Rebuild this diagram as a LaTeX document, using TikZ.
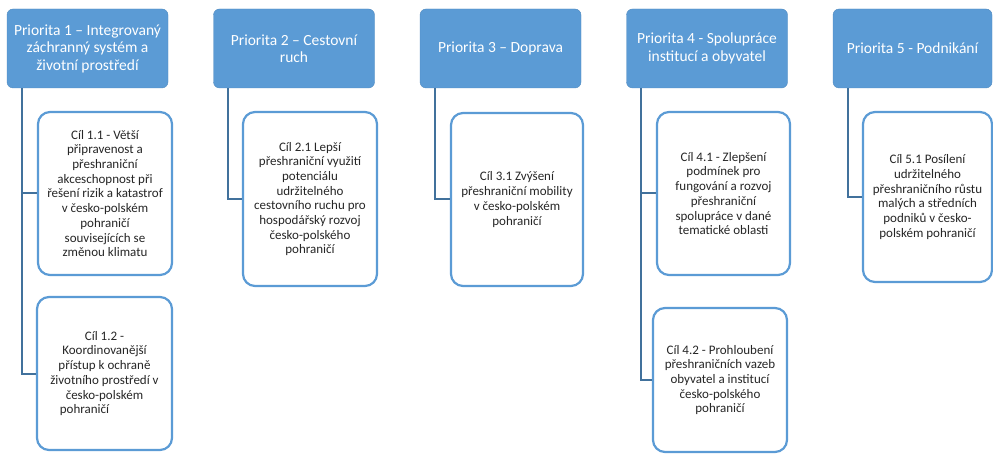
\documentclass[tikz,border=0pt]{standalone}
\usepackage{fontspec}
\setmainfont{Carlito}
\definecolor{hdrblue}{HTML}{5B9BD5}
\definecolor{linkblue}{HTML}{41719C}
\definecolor{boxblue}{HTML}{5B9BD5}
\begin{document}
\begin{tikzpicture}[x=1pt,y=-1pt,
  header/.style={fill=hdrblue, draw=hdrblue!90!black, line width=0.4pt, rounded corners=6pt,
    text=white, align=center, inner sep=0pt,
    font=\fontsize{15.5}{17.5}\selectfont},
  goal/.style={draw=boxblue, fill=white, line width=2.2pt, rounded corners=12pt,
    align=center, inner sep=0pt, text=black!85,
    font=\fontsize{13}{14.7}\selectfont},
  conn/.style={draw=linkblue, line width=2pt}]
\useasboundingbox (0,0) rectangle (993,454);

% headers
\node[header, minimum width=161pt, minimum height=79pt] (P1) at (87.5,48.5)
  {Priorita 1 – Integrovaný\\záchranný systém a\\životní prostředí};
\node[header, minimum width=161pt, minimum height=79pt] (P2) at (294,48.5)
  {Priorita 2 – Cestovní\\ruch};
\node[header, minimum width=161pt, minimum height=79pt] (P3) at (500.5,48.5)
  {Priorita 3 – Doprava};
\node[header, minimum width=161pt, minimum height=79pt] (P4) at (707,48.5)
  {Priorita 4 - Spolupráce\\institucí a obyvatel};
\node[header, minimum width=159pt, minimum height=79pt] (P5) at (912.5,48.5)
  {Priorita 5 - Podnikání};

% goals
\node[goal, minimum width=134pt, minimum height=163pt] (C11) at (105,193.5)
  {Cíl 1.1 - Větší\\připravenost a\\přeshraniční\\akceschopnost při\\řešení rizik a katastrof\\v česko-polském\\pohraničí\\souvisejících se\\změnou klimatu};
\node[goal, minimum width=135pt, minimum height=153pt] (C12) at (104.5,373.5)
  {Cíl 1.2 -\\Koordinovanější\\přístup k ochraně\\životního prostředí v\\česko-polském\\pohraničí\hspace*{40pt}};
\node[goal, minimum width=134pt, minimum height=174pt] (C21) at (310,199)
  {Cíl 2.1 Lepší\\přeshraniční využití\\potenciálu\\udržitelného\\cestovního ruchu pro\\hospodářský rozvoj\\česko-polského\\pohraničí};
\node[goal, minimum width=132pt, minimum height=173pt] (C31) at (517,199.5)
  {Cíl 3.1 Zvýšení\\přeshraniční mobility\\v česko-polském\\pohraničí};
\node[goal, minimum width=133pt, minimum height=163pt] (C41) at (723.5,193.5)
  {Cíl 4.1 - Zlepšení\\podmínek pro\\fungování a rozvoj\\přeshraniční\\spolupráce v dané\\tematické oblasti};
\node[goal, minimum width=134pt, minimum height=144pt] (C42) at (720,380)
  {Cíl 4.2 - Prohloubení\\přeshraničních vazeb\\obyvatel a institucí\\česko-polského\\pohraničí};
\node[goal, minimum width=129pt, minimum height=170pt] (C51) at (927.5,197)
  {Cíl 5.1 Posílení\\udržitelného\\přeshraničního růstu\\malých a středních\\podniků v česko-\\polském pohraničí};

% connectors
\draw[conn] ([xshift=15pt]P1.south west) |- (C11.west);
\draw[conn] ([xshift=15pt]P1.south west) |- (C12.west);
\draw[conn] ([xshift=15pt]P2.south west) |- (C21.west);
\draw[conn] ([xshift=15pt]P3.south west) |- (C31.west);
\draw[conn] ([xshift=15pt]P4.south west) |- (C41.west);
\draw[conn] ([xshift=15pt]P4.south west) |- (C42.west);
\draw[conn] ([xshift=15pt]P5.south west) |- (C51.west);
\end{tikzpicture}
\end{document}
